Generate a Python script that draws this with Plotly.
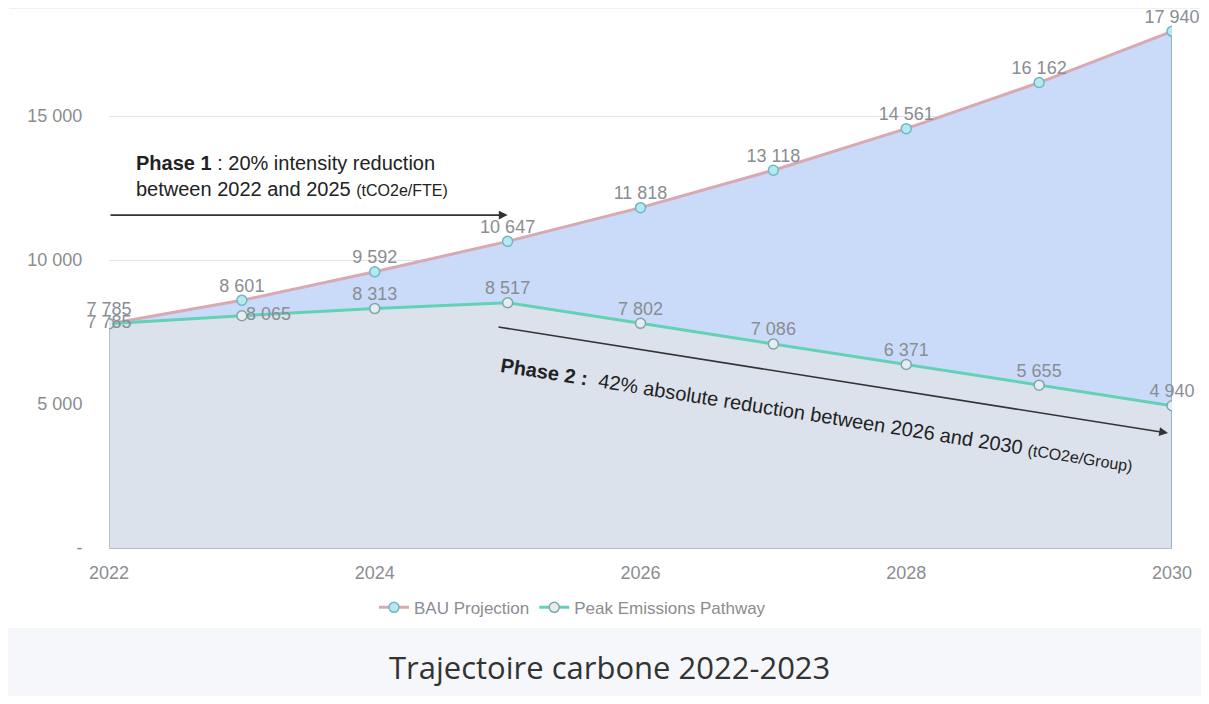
import plotly.graph_objects as go

years = [2022, 2023, 2024, 2025, 2026, 2027, 2028, 2029, 2030]
bau = [7785, 8601, 9592, 10647, 11818, 13118, 14561, 16162, 17940]
peak = [7785, 8065, 8313, 8517, 7802, 7086, 6371, 5655, 4940]
ytick_vals = [0, 5000, 10000, 15000]
ytick_text = ["-", "5 000", "10 000", "15 000"]
xtick_vals = [2022, 2024, 2026, 2028, 2030]


def fmt(v):
    return f"{v:,}".replace(",", " ")


bau_pos = ["top center"] * len(years)
peak_pos = ["top center"] * len(years)
peak_pos[0] = "middle center"
peak_pos[1] = "middle right"

LABEL = dict(family="Liberation Sans, Arial", size=18, color="#8a8d92")
TICK = dict(family="Liberation Sans, Arial", size=18, color="#8a8d92")
HIDDEN = dict(size=5, color="rgba(0,0,0,0)")

fig = go.Figure()

# filled areas (no legend)
fig.add_trace(go.Scatter(x=years, y=bau, mode="none", fill="tozeroy", fillcolor="#c9dbf8",
                         showlegend=False, hoverinfo="skip"))
fig.add_trace(go.Scatter(x=years, y=peak, mode="none", fill="tozeroy", fillcolor="#dce2ec",
                         showlegend=False, hoverinfo="skip"))
# area edges
fig.add_trace(go.Scatter(x=[years[0], years[0]], y=[0, peak[0]], mode="lines",
                         line=dict(color="#a9b6c2", width=1.5), showlegend=False, hoverinfo="skip"))
fig.add_trace(go.Scatter(x=[years[-1], years[-1]], y=[0, bau[-1]], mode="lines",
                         line=dict(color="#7fa9b4", width=1.5), showlegend=False, hoverinfo="skip"))

fig.add_trace(go.Scatter(
    x=years, y=bau, name="BAU Projection", mode="lines+markers",
    line=dict(color="#d9a9b2", width=3),
    marker=dict(size=10, color="#b5e9ef", line=dict(color="#6fb7c4", width=1.5)),
))
fig.add_trace(go.Scatter(
    x=years, y=peak, name="Peak Emissions Pathway", mode="lines+markers",
    line=dict(color="#62d1b6", width=3),
    marker=dict(size=10, color="#e6ecef", line=dict(color="#7fa7a9", width=1.5)),
))
# data labels
fig.add_trace(go.Scatter(
    x=years, y=bau, mode="markers+text", marker=HIDDEN, text=[fmt(v) for v in bau],
    textposition=bau_pos, textfont=LABEL, cliponaxis=False, showlegend=False, hoverinfo="skip",
))
fig.add_trace(go.Scatter(
    x=years, y=peak, mode="markers+text", marker=HIDDEN, text=[fmt(v) for v in peak],
    textposition=peak_pos, textfont=LABEL, cliponaxis=False, showlegend=False, hoverinfo="skip",
))

ANN = dict(family="Liberation Sans, Arial", size=20, color="#222222")

fig.add_annotation(
    x=2022.19, y=12900, xref="x", yref="y", xanchor="left", yanchor="middle", align="left",
    showarrow=False, font=ANN,
    text="<b>Phase 1</b> : 20% intensity reduction<br>between 2022 and 2025 <span style='font-size:16px'>(tCO2e/FTE)</span>",
)
fig.add_annotation(
    x=2025.0, y=11560, ax=2022.0, ay=11560, xref="x", yref="y", axref="x", ayref="y",
    showarrow=True, arrowhead=2, arrowsize=1.1, arrowwidth=1.6, arrowcolor="#333333", text="",
)
fig.add_annotation(
    x=2029.97, y=3990, ax=2024.92, ay=7680, xref="x", yref="y", axref="x", ayref="y",
    showarrow=True, arrowhead=2, arrowsize=1.1, arrowwidth=1.6, arrowcolor="#333333", text="",
)
fig.add_annotation(
    x=2027.33, y=4620, xref="x", yref="y", showarrow=False, textangle=9, font=ANN,
    text="<b>Phase 2 :</b>  42% absolute reduction between 2026 and 2030 <span style='font-size:16px'>(tCO2e/Group)</span>",
)

# footer band and title
fig.add_shape(type="rect", xref="paper", yref="paper", x0=-0.2, x1=1.2, y0=-0.4, y1=-0.15,
              fillcolor="#f6f7fb", line=dict(width=0), layer="below")
fig.add_shape(type="line", xref="paper", yref="paper", x0=-0.094, x1=1.04, y0=1.011, y1=1.011,
              line=dict(color="#e8e8e8", width=1))
fig.add_annotation(
    x=0.471, y=-0.223, xref="paper", yref="paper", showarrow=False, yanchor="middle",
    text="Trajectoire carbone 2022-2023",
    font=dict(family="Open Sans, Noto Sans", size=31, color="#333333"),
)

fig.update_layout(
    width=1201, height=688,
    margin=dict(l=101, r=37, t=6, b=148),
    paper_bgcolor="white", plot_bgcolor="white",
    showlegend=True,
    legend=dict(orientation="h", x=0.436, xanchor="center", y=-0.112, yanchor="middle",
                font=dict(family="Liberation Sans, Arial", size=17, color="#8a8d92"),
                bgcolor="rgba(0,0,0,0)"),
    xaxis=dict(range=[2022, 2030], tickvals=xtick_vals, showgrid=False, zeroline=False,
               showline=True, linecolor="#b8bec6", linewidth=1,
               ticks="outside", ticklen=8, tickcolor="rgba(0,0,0,0)", tickfont=TICK),
    yaxis=dict(range=[0, 18542], tickvals=ytick_vals, ticktext=ytick_text, showgrid=True,
               gridcolor="#e4e4e4", zeroline=False, showline=False,
               ticks="outside", ticklen=22, tickcolor="rgba(0,0,0,0)", tickfont=TICK),
)

fig.write_html("out.html")
